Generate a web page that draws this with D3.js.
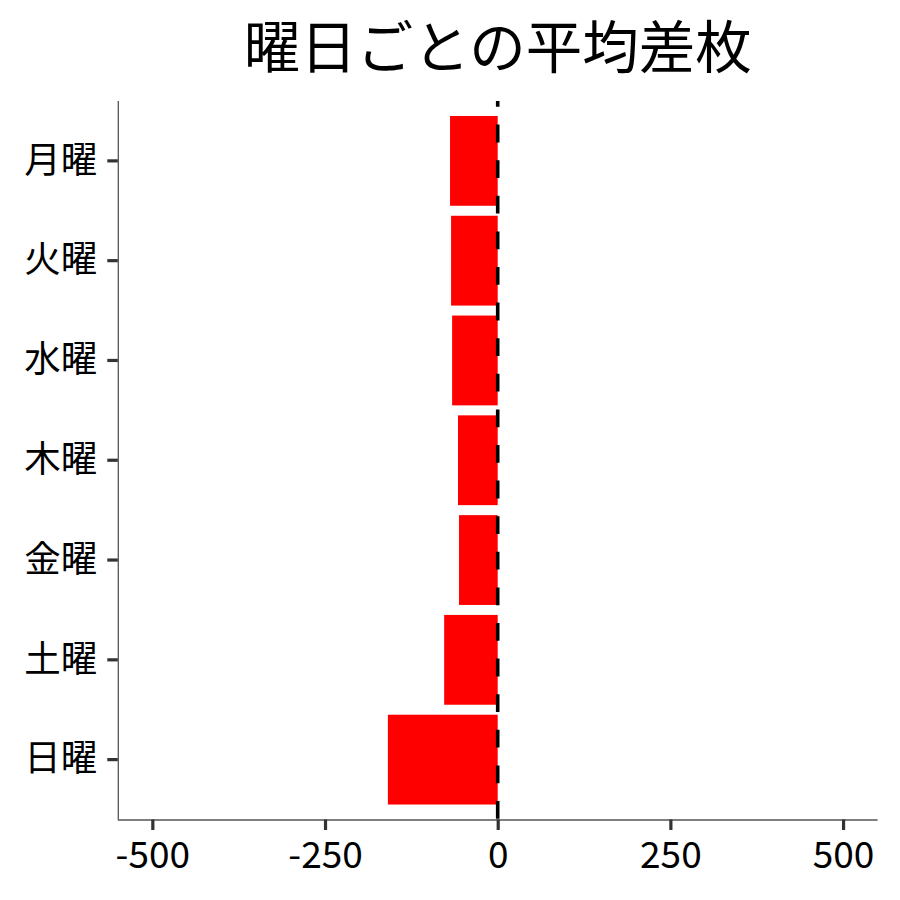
<!DOCTYPE html>
<html>
<head>
<meta charset="utf-8">
<script src="https://cdn.jsdelivr.net/npm/d3@7"></script>
<style>
  html, body { margin: 0; padding: 0; background: #fff; }
  svg { display: block; }
  text { font-family: "Noto Sans CJK JP", "Noto Sans", sans-serif; }
</style>
</head>
<body>
<svg id="chart" width="900" height="900"></svg>
<script>
const title = "曜日ごとの平均差枚";
const days = ["月曜", "火曜", "水曜", "木曜", "金曜", "土曜", "日曜"];
const avgDiff = [-69, -67.5, -66, -57.5, -56, -77.5, -159];
const xTicks = [-500, -250, 0, 250, 500];
const xDomain = [-550, 550];

(function () {
const svg = d3.select("#chart");
const pLeft = 117.8, pRight = 877.6, pTop = 101, pBottom = 819.5;

const x = d3.scaleLinear().domain(xDomain).range([pLeft, pRight]);
const y = d3.scaleBand().domain(days).range([pTop, pBottom]).paddingInner(0.1).paddingOuter(0.15);

// bars
svg.append("g").selectAll("rect")
  .data(days.map((d, i) => ({ day: d, v: avgDiff[i] })))
  .join("rect")
  .attr("x", d => x(Math.min(0, d.v)))
  .attr("width", d => Math.abs(x(d.v) - x(0)))
  .attr("y", d => y(d.day))
  .attr("height", y.bandwidth())
  .attr("fill", "#ff0000");

// dashed zero line
svg.append("line")
  .attr("x1", x(0)).attr("x2", x(0))
  .attr("y1", pTop).attr("y2", pBottom)
  .attr("stroke", "#000")
  .attr("stroke-width", 3.6)
  .attr("stroke-dasharray", "17.8,17.8")
  .attr("stroke-dashoffset", 12);

// x axis
const xAxis = svg.append("g").attr("transform", `translate(0,${pBottom})`)
  .call(d3.axisBottom(x).tickValues(xTicks).tickSize(10.5).tickPadding(11.5).tickFormat(d3.format("d")));
xAxis.select(".domain").attr("stroke", "#555").attr("stroke-width", 1.3)
  .attr("d", `M${pLeft},0.5H${pRight}`);
xAxis.selectAll(".tick line").attr("stroke", "#333").attr("stroke-width", 3.2);
xAxis.selectAll(".tick text").attr("font-size", 37).attr("fill", "#000")
  .attr("font-family", '"Noto Sans CJK JP", sans-serif')
  .text(d => d < 0 ? "-" + Math.abs(d) : String(d));

// y axis
const yAxis = svg.append("g").attr("transform", `translate(${pLeft},0)`)
  .call(d3.axisLeft(y).tickSize(10.5).tickPadding(10));
yAxis.select(".domain").attr("stroke", "#555").attr("stroke-width", 1.3)
  .attr("d", `M0.5,${pTop}V${pBottom}`);
yAxis.selectAll(".tick line").attr("stroke", "#333").attr("stroke-width", 3.2);
yAxis.selectAll(".tick text").attr("font-size", 36.5).attr("fill", "#000")
  .attr("font-family", '"Noto Sans CJK JP", sans-serif');

// title
svg.append("text")
  .attr("x", (pLeft + pRight) / 2)
  .attr("y", 43)
  .attr("text-anchor", "middle")
  .attr("dominant-baseline", "central")
  .attr("font-size", 56.5)
  .attr("fill", "#000")
  .text(title);
})();
</script>
</body>
</html>
